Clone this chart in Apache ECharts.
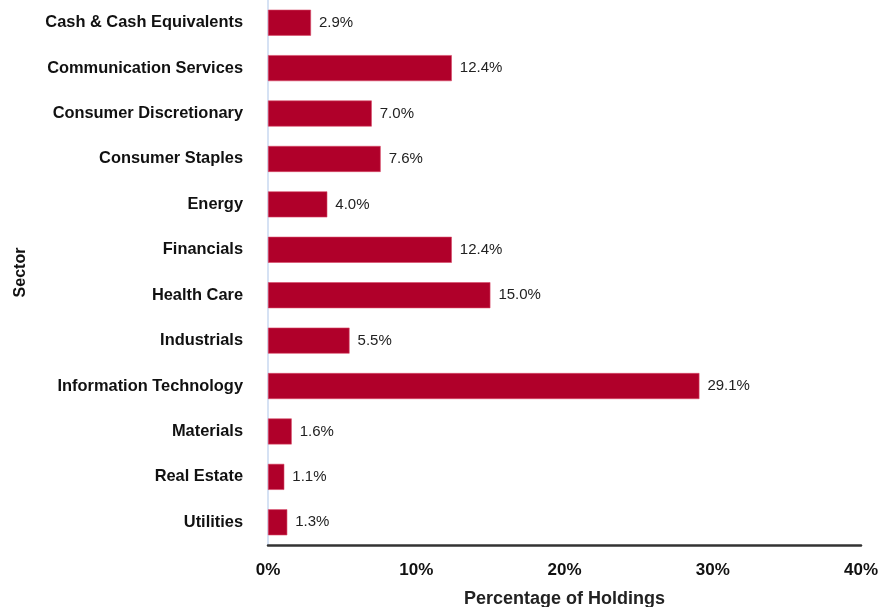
<!DOCTYPE html>
<html>
<head>
<meta charset="utf-8">
<script src="https://cdn.jsdelivr.net/npm/echarts@6/dist/echarts.min.js"></script>
<style>
html,body{margin:0;padding:0;background:#fff;}
#chart{width:890px;height:607px;}
</style>
</head>
<body>
<div id="chart"></div>
<script>
// Sector allocation, listed top to bottom
const sectors = [
  'Cash & Cash Equivalents',
  'Communication Services',
  'Consumer Discretionary',
  'Consumer Staples',
  'Energy',
  'Financials',
  'Health Care',
  'Industrials',
  'Information Technology',
  'Materials',
  'Real Estate',
  'Utilities'
];
const weights = [2.9, 12.4, 7.0, 7.6, 4.0, 12.4, 15.0, 5.5, 29.1, 1.6, 1.1, 1.3];
const xTicks = [0, 10, 20, 30, 40];

const chart = echarts.init(document.getElementById('chart'));
const font = 'Liberation Sans, Arial, sans-serif';

chart.setOption({
  animation: false,
  backgroundColor: '#ffffff',
  grid: { left: 268, right: 29, top: 0, bottom: 62, containLabel: false, outerBoundsMode: 'none' },
  xAxis: {
    type: 'value',
    min: xTicks[0],
    max: xTicks[xTicks.length - 1],
    interval: 10,
    name: 'Percentage of Holdings',
    nameLocation: 'middle',
    nameGap: 45,
    nameTextStyle: { fontFamily: font, fontWeight: 'bold', fontSize: 18, color: '#222' },
    axisLine: { show: true, lineStyle: { color: '#333', width: 2.5 } },
    axisTick: { show: false },
    splitLine: { show: false },
    axisLabel: {
      margin: 17,
      fontFamily: font, fontWeight: 'bold', fontSize: 17, color: '#111',
      formatter: v => v + '%'
    }
  },
  yAxis: {
    type: 'category',
    data: sectors,
    inverse: true,
    name: 'Sector',
    nameLocation: 'middle',
    nameGap: 239,
    nameRotate: 90,
    nameTextStyle: { fontFamily: font, fontWeight: 'bold', fontSize: 16, color: '#111' },
    axisLine: { show: true, lineStyle: { color: '#c9d9f1', width: 1.5 } },
    axisTick: { show: false },
    axisLabel: {
      margin: 25,
      fontFamily: font, fontWeight: 'bold', fontSize: 16.4, color: '#111'
    }
  },
  series: [{
    type: 'bar',
    data: weights,
    barWidth: 26,
    itemStyle: { color: '#b0002a', borderColor: '#d84a68', borderWidth: 0.6 },
    label: {
      show: true,
      position: 'right',
      distance: 8,
      fontFamily: font,
      fontSize: 15,
      color: '#222',
      formatter: p => p.value.toFixed(1) + '%'
    }
  }]
});
</script>
</body>
</html>
